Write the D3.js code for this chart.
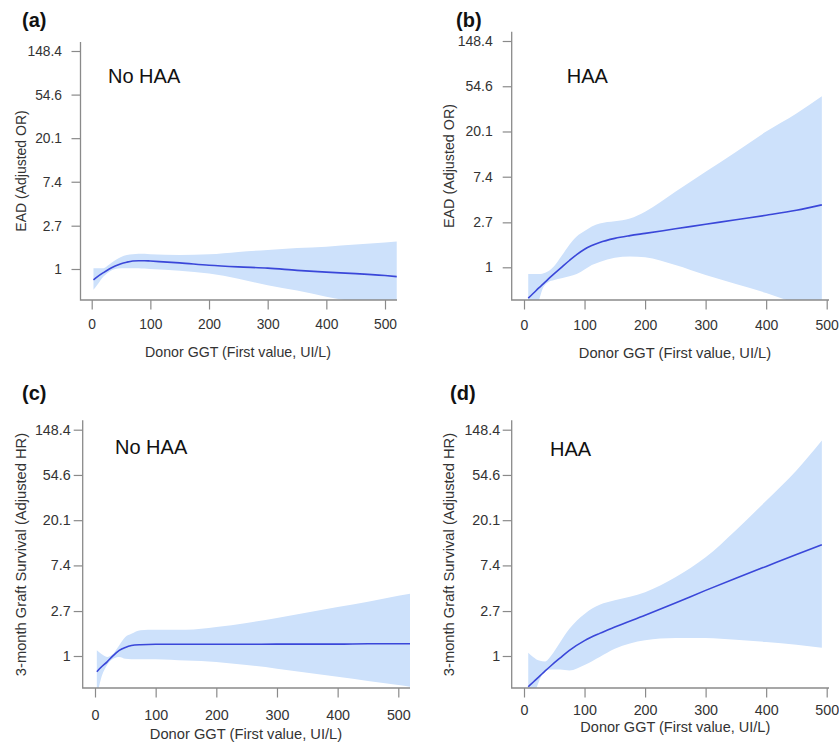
<!DOCTYPE html>
<html><head><meta charset="utf-8">
<script src="https://cdn.jsdelivr.net/npm/d3@7"></script>
<style>
body{margin:0;background:#fff;}
svg text{font-family:"Liberation Sans",Arial,Helvetica,sans-serif;}
</style></head><body>
<svg id="chart" width="839" height="744"></svg>
<script>
// ---- data ----
const xTicks = [0, 100, 200, 300, 400, 500];
const yTickLabels = ["1", "2.7", "7.4", "20.1", "54.6", "148.4"];
const panelLetters = ["(a)", "(b)", "(c)", "(d)"];
const groupLabels = ["No HAA", "HAA", "No HAA", "HAA"];
const yTitles = ["EAD (Adjusted OR)", "EAD (Adjusted OR)",
  "3-month Graft Survival (Adjusted HR)", "3-month Graft Survival (Adjusted HR)"];
const xTitle = "Donor GGT (First value, UI/L)";

// (a) EAD, No HAA
const aX     = [3,10,20,30,40,50,60,70,80,90,100,150,200,250,300,350,400,450,500,520];
const aFit   = [0.78,0.84,0.92,1.00,1.07,1.13,1.17,1.20,1.21,1.21,1.20,1.15,1.09,1.05,1.02,0.97,0.93,0.90,0.86,0.84];
const aUpper = [1.02,1.02,1.02,1.11,1.22,1.32,1.38,1.40,1.42,1.42,1.40,1.38,1.40,1.48,1.55,1.62,1.67,1.75,1.84,1.88];
const aLower = [0.62,0.70,0.84,0.94,1.00,1.02,1.02,1.02,1.02,1.01,1.00,0.96,0.90,0.80,0.69,0.61,0.53,0.47,0.42,0.40];

// (b) EAD, HAA
const bX     = [7,15,25,30,40,50,62,75,87,100,112,125,150,175,200,250,300,350,400,450,492];
const bFit   = [0.507,0.560,0.638,0.677,0.771,0.869,1.000,1.162,1.323,1.492,1.616,1.733,1.896,2.014,2.117,2.340,2.586,2.858,3.158,3.525,3.975];
const bUpper = [0.861,0.861,0.861,0.869,0.914,1.030,1.284,1.649,1.974,2.226,2.460,2.638,2.773,2.945,3.421,5.312,8.248,12.81,20.09,29.96,43.82];
const bLower = [0.202,0.301,0.487,0.607,0.719,0.756,0.787,0.819,0.861,0.951,1.051,1.127,1.234,1.271,1.246,1.051,0.844,0.691,0.566,0.449,0.368];

// (c) 3-month graft survival, No HAA
const cX     = [3,10,20,30,40,50,60,75,100,150,200,250,300,350,400,450,500,520];
const cFit   = [0.705,0.779,0.878,1.010,1.133,1.209,1.259,1.284,1.297,1.297,1.297,1.297,1.30,1.30,1.30,1.31,1.31,1.31];
const cUpper = [1.133,1.051,0.980,1.051,1.271,1.522,1.632,1.768,1.786,1.786,1.896,2.075,2.316,2.612,2.945,3.320,3.781,3.955];
const cLower = [0.407,0.607,0.819,0.942,0.980,0.942,0.932,0.932,0.932,0.905,0.878,0.819,0.756,0.691,0.631,0.577,0.527,0.507];

// (d) 3-month graft survival, HAA
const dX     = [7,15,25,35,45,60,75,100,125,150,200,250,300,350,400,450,492];
const dFit   = [0.507,0.560,0.634,0.719,0.811,0.961,1.133,1.405,1.649,1.896,2.460,3.222,4.263,5.585,7.243,9.393,11.70];
const dUpper = [1.073,0.980,0.905,0.887,1.010,1.363,1.822,2.535,3.096,3.421,4.096,5.697,8.846,16.12,30.88,60.34,116.7];
const dLower = [0.273,0.387,0.577,0.719,0.741,0.741,0.726,0.819,0.980,1.174,1.419,1.492,1.492,1.433,1.363,1.284,1.197];

const series = [
  {x: aX, fit: aFit, up: aUpper, lo: aLower},
  {x: bX, fit: bFit, up: bUpper, lo: bLower},
  {x: cX, fit: cFit, up: cUpper, lo: cLower},
  {x: dX, fit: dFit, up: dUpper, lo: dLower}
];

// ---- layout (pixel geometry of each panel) ----
const layout = [
  {left:80.5, right:397, top:42, bottom:300, x0:91.7, x500:385, y1:269, yTop:51,
   xPad:9.5, yPad:9.5, tickFs:13.8, titleFs:14.2, yTitleFs:14,
   letter:[22,26.7], group:[108,82.7], yTitle:[21,171], xTitle:[238,357]},
  {left:511.7, right:829, top:31.7, bottom:300, x0:524, x500:826.7, y1:267.3, yTop:41,
   xPad:10.5, yPad:10, tickFs:14, titleFs:14.7, yTitleFs:14.3,
   letter:[456,26.7], group:[566.7,82.7], yTitle:[449.3,166], xTitle:[675,358]},
  {left:82.7, right:410, top:420.3, bottom:688, x0:95, x500:398.3, y1:656, yTop:429.7,
   xPad:12.5, yPad:3, tickFs:14.3, titleFs:14.7, yTitleFs:14.7,
   letter:[22,400.3], group:[115,453.7], yTitle:[20.7,554.5], xTitle:[246,739]},
  {left:511.7, right:829, top:420.3, bottom:688, x0:524, x500:826.7, y1:656, yTop:429.7,
   xPad:7.5, yPad:2.5, tickFs:14.3, titleFs:14.5, yTitleFs:14.7,
   letter:[450,400.3], group:[550,456], yTitle:[449.3,554.5], xTitle:[675.3,732]}
];

const bandColor = "#cde1fb";
const lineColor = "#3a47d9";
const axisColor = "#8a8a8a";
const textColor = "#333333";

const svg = d3.select("#chart");
const yTickValues = yTickLabels.map(Number);

layout.forEach((L, i) => {
  const s = series[i];
  const x = d3.scaleLinear().domain([0, 500]).range([L.x0, L.x500]);
  const y = d3.scaleLog().domain([1, 148.4]).range([L.y1, L.yTop]);
  const g = svg.append("g");

  const clipId = "clip" + i;
  svg.append("clipPath").attr("id", clipId).append("rect")
    .attr("x", L.left).attr("y", L.top)
    .attr("width", L.right - L.left).attr("height", L.bottom - L.top);

  const pts = s.x.map((v, k) => ({x: v, fit: s.fit[k], up: s.up[k], lo: s.lo[k]}));

  const area = d3.area().x(d => x(d.x)).y0(d => y(d.lo)).y1(d => y(d.up))
    .curve(d3.curveMonotoneX);
  const line = d3.line().x(d => x(d.x)).y(d => y(d.fit)).curve(d3.curveMonotoneX);

  const plot = g.append("g").attr("clip-path", `url(#${clipId})`);
  plot.append("path").datum(pts).attr("d", area).attr("fill", bandColor);
  plot.append("path").datum(pts).attr("d", line).attr("fill", "none")
    .attr("stroke", lineColor).attr("stroke-width", 1.6);

  // x axis ticks
  const xa = g.append("g").attr("transform", `translate(0,${L.bottom})`)
    .call(d3.axisBottom(x).tickValues(xTicks).tickSize(9.5).tickPadding(L.xPad).tickFormat(d3.format("d")));
  xa.select(".domain").remove();
  xa.selectAll("line").attr("stroke", axisColor).attr("stroke-width", 1.2);
  xa.selectAll("text").attr("fill", textColor).style("font-size", L.tickFs + "px")
    .style("font-family", '"Liberation Sans", Arial, sans-serif');

  // y axis ticks
  const ya = g.append("g").attr("transform", `translate(${L.left},0)`)
    .call(d3.axisLeft(y).tickValues(yTickValues).tickSize(9).tickPadding(L.yPad)
      .tickFormat((d, k) => yTickLabels[k]));
  ya.select(".domain").remove();
  ya.selectAll("line").attr("stroke", axisColor).attr("stroke-width", 1.2);
  ya.selectAll("text").attr("fill", textColor).style("font-size", L.tickFs + "px")
    .style("font-family", '"Liberation Sans", Arial, sans-serif');

  // L-shaped frame
  g.append("path")
    .attr("d", `M${L.left},${L.top}V${L.bottom}H${L.right}`)
    .attr("fill", "none").attr("stroke", axisColor).attr("stroke-width", 1.3);

  // texts
  g.append("text").attr("x", L.letter[0]).attr("y", L.letter[1])
    .attr("font-weight", "bold").attr("font-size", 20).attr("fill", "#111")
    .text(panelLetters[i]);
  g.append("text").attr("x", L.group[0]).attr("y", L.group[1])
    .attr("font-size", 20).attr("fill", "#111").text(groupLabels[i]);
  g.append("text").attr("transform", `translate(${L.yTitle[0]},${L.yTitle[1]}) rotate(-90)`)
    .attr("text-anchor", "middle").attr("dy", "0.35em")
    .attr("font-size", L.yTitleFs).attr("fill", textColor).text(yTitles[i]);
  g.append("text").attr("x", L.xTitle[0]).attr("y", L.xTitle[1])
    .attr("text-anchor", "middle")
    .attr("font-size", L.titleFs).attr("fill", textColor).text(xTitle);
});
</script>
</body></html>
